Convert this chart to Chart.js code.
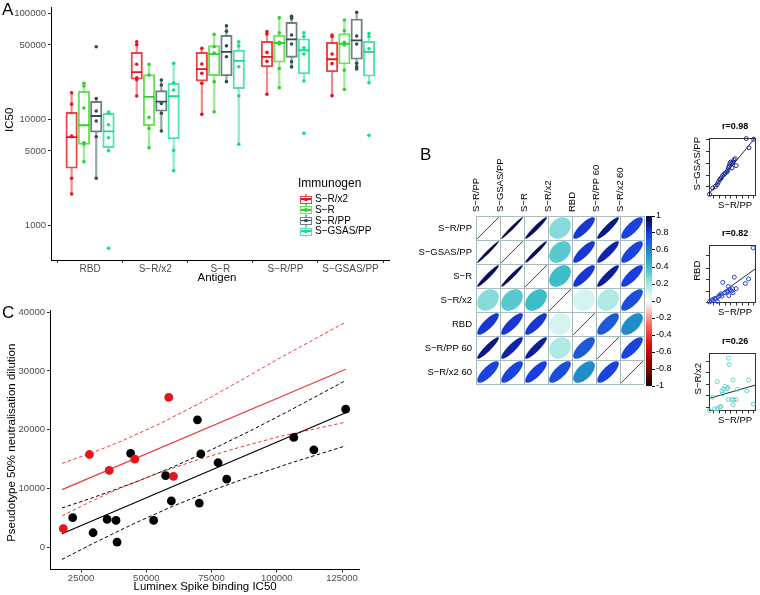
<!DOCTYPE html>
<html><head><meta charset="utf-8">
<script src="https://cdn.jsdelivr.net/npm/chart.js@4/dist/chart.umd.min.js"></script>
<style>
body{margin:0;width:760px;height:595px;position:relative;background:#fff;overflow:hidden;font-family:'Liberation Sans',Arial,Helvetica,sans-serif}
canvas{position:absolute}
.t{position:absolute;white-space:nowrap;color:#000}
.g{position:absolute}
</style></head><body>
<canvas id="cA" style="left:0;top:0" width="397" height="290"></canvas>
<canvas id="cM" style="left:400px;top:130px" width="250" height="260"></canvas>
<canvas id="cBar" style="left:640px;top:205px" width="40" height="190"></canvas>
<canvas id="m1" style="left:685px;top:118px" width="75" height="100"></canvas>
<canvas id="m2" style="left:685px;top:225px" width="75" height="100"></canvas>
<canvas id="m3" style="left:685px;top:333px" width="75" height="100"></canvas>
<canvas id="cC" style="left:0;top:300px" width="370" height="295"></canvas>
<script>
// ---------------- DATA ----------------
const antigens = ['RBD','S\u2212R/x2','S\u2212R','S\u2212R/PP','S\u2212GSAS/PP'];
const immunogens = ['S\u2212R/x2','S\u2212R','S\u2212R/PP','S\u2212GSAS/PP'];
const yTicksA = [1000, 5000, 10000, 50000, 100000];
// box stats per antigen: [lower whisker, q1, median, q3, upper whisker]
const srx2Box = [[1960,3430,6760,11560,17700],[16500,23700,27700,42500,53500],[11060,22800,29600,42500,46400],[17100,31000,38500,54100,66700],[16600,27900,36600,52900,62000]];
const srBox   = [[3950,5770,8730,18240,21700],[5360,8650,16150,26200,32800],[11720,25600,41000,49200,63000],[19700,34300,52100,62000,90300],[19000,33000,51300,63800,85900]];
const srppBox = [[2760,7500,10670,14700,15670],[7700,11830,14570,18500,23300],[22500,25500,42900,61600,75900],[31000,38200,56500,81700,93100],[29600,36600,55200,87800,101500]];
const gsasBox = [[5020,5360,7650,11330,11600],[3250,6510,16400,21700,33500],[5770,19300,35300,44700,53500],[22800,26600,44500,57200,65200],[21700,25300,42900,54100,64000]];
// individual points per antigen
const srx2Pts = [[17700,13800,6900,6800,2760,1960],[53500,50200,32800,24500,23500,16500],[46400,33000,27000,21700,11060],[66700,63400,42500,35000,17100],[62000,60000,41000,33300,16600]];
const srPts   = [[21700,20500,12700,5970,5800,3950],[32800,26000,10400,8160,5360],[63000,48000,42000,22500,11720],[90300,65000,53000,51000,30000,19700],[85900,68000,53000,50000,28800,19000]];
const srppPts = [[48100,15600,11900,9580,6800,2760],[23300,20900,14000,11330,7700],[75900,67200,49000,38700,22500],[93100,89000,62000,51000,34700,31000],[101500,60700,51000,33500,31000,29600]];
const gsasPts = [[11600,8830,6660,5020,603],[33500,22000,18800,5070,3250],[53500,49000,31100,16500,5770],[65200,60000,47000,41000,22800,7330],[64000,60000,46000,22000,7010]];

// correlation matrix
const corrVars = ['S\u2212R/PP','S\u2212GSAS/PP','S\u2212R','S\u2212R/x2','RBD','S\u2212R/PP 60','S\u2212R/x2 60'];
const corr = [
 [1.00,0.98,0.96,0.26,0.82,0.92,0.78],
 [0.98,1.00,0.97,0.35,0.82,0.88,0.78],
 [0.96,0.97,1.00,0.40,0.82,0.90,0.80],
 [0.26,0.35,0.40,1.00,0.10,0.18,0.75],
 [0.82,0.82,0.82,0.10,1.00,0.72,0.58],
 [0.92,0.88,0.90,0.18,0.72,1.00,0.78],
 [0.78,0.78,0.80,0.75,0.58,0.78,1.00]];
const cbTicks = [1,0.8,0.6,0.4,0.2,0,-0.2,-0.4,-0.6,-0.8,-1];

// mini scatter plots (S-R/PP on x)
const mini1X = [1,8,14,18,20,23,25,27,30,33,35,39,41,42,44,45,47,50,52,54,57,59,50,81,87,97];
const mini1Y = [2,13,16,19,23,27,29,31,35,37,39,41,44,48,51,55,58,56,58,62,64,52,48,99,83,98];
const mini1Fit = [3,100];
const mini2X = [1,5,8,12,15,18,20,23,26,28,30,35,39,41,42,43,46,49,51,52,55,59,79,86,96];
const mini2Y = [1,3,5,7,6,2,10,12,15,11,35,17,18,20,28,12,22,20,24,17,44,24,33,41,95];
const mini2Fit = [1,58];
const mini3X = [42,44,18,52,28,32,35,39,41,30,42,49,54,59,52,82,86,8,12,18,23,26,1,96,62];
const mini3Y = [91,80,50,53,34,37,42,38,40,29,19,19,19,19,10,34,53,23,3,3,6,7,0,11,37];
const mini3Fit = [21,44];
const miniXTicks = [10,23,35,47,60,73,85,97];
const mini1YTicks = [15,35,55,76,98];
const mini2YTicks = [0,19,40,60,81];
const mini3YTicks = [6,26,46,66,86];

// panel C
const redX = [18200,28200,35800,45600,58600,60400];
const redY = [3190,15800,13100,15000,25500,12100];
const blackX = [21800,29600,35000,38400,38800,44000,52800,57400,59600,69600,70300,70900,77500,80800,106500,114200,126400];
const blackY = [5060,2500,4770,4600,900,16000,4600,12200,7900,21700,7550,15900,14400,11600,18700,16600,23500];
const fitX = [17700,126400];
const blackFitY = [2330,22900];
const redFitY = [9830,30300];
const blackBandX = [17700,30000,45000,60000,75000,90000,105000,126400];
const blackUpper = [6700,8540,10960,13640,16620,19860,23290,28380];
const blackLower = [-2040,760,4000,6980,9660,12080,14310,17280];
const redBandX = [17700,30000,41000,55000,70000,85000,100000,126400];
const redUpper = [14300,16220,18170,21000,24400,28080,31920,38300];
const redLower = [5360,8080,10270,12710,14950,16930,18740,21300];
const xTicksC = [25000,50000,75000,100000,125000];
const yTicksC = [0,10000,20000,30000,40000];

// ---------------- HELPERS ----------------
const FONT = "'Liberation Sans', Arial, Helvetica, sans-serif";
Chart.defaults.font.family = FONT;
Chart.defaults.animation = false;
Chart.defaults.responsive = false;
Chart.defaults.events = [];
Chart.defaults.plugins.legend.display = false;
Chart.defaults.plugins.tooltip.enabled = false;

function txt(s, x, y, size, opt = {}) {
  const d = document.createElement('div');
  d.className = 't'; d.textContent = s;
  d.style.fontSize = size + 'px'; d.style.lineHeight = size + 'px';
  if (opt.bold) d.style.fontWeight = 'bold';
  if (opt.color) d.style.color = opt.color;
  document.body.appendChild(d);
  const w = d.offsetWidth;
  if (opt.rot) {
    d.style.left = (x - w / 2) + 'px';
    d.style.top = (y - size / 2) + 'px';
    d.style.transform = 'rotate(-90deg)';
  } else {
    const al = opt.align || 'left';
    d.style.left = (al === 'center' ? x - w / 2 : al === 'right' ? x - w : x) + 'px';
    d.style.top = (y - 0.846 * size) + 'px';
  }
}
function box(x, y, w, h, css) {
  const d = document.createElement('div'); d.className = 'g';
  d.style.left = x + 'px'; d.style.top = y + 'px'; d.style.width = w + 'px'; d.style.height = h + 'px';
  Object.assign(d.style, css || {});
  document.body.appendChild(d);
}
// fix an axis' thickness and drop the label overhang padding
const fixH = h => s => { s.height = h; s.paddingLeft = 0; s.paddingRight = 0; s.paddingTop = 0; s.paddingBottom = 0; };
const fixW = w => s => { s.width = w; s.paddingLeft = 0; s.paddingRight = 0; s.paddingTop = 0; s.paddingBottom = 0; };
const tickGrid = {display: true, drawOnChartArea: false, drawTicks: true, tickLength: 3, color: '#333333', lineWidth: 1};
const axisBorder = {display: true, color: '#000', width: 1};
const setTicks = arr => s => { s.ticks = arr.map(v => ({value: v})); };

// ---------------- PANEL A ----------------
const groupsA = [
  {box: srx2Box, pts: srx2Pts, solid: '#E8141C', line: 'rgba(232,20,28,0.8)', whisk: 'rgba(232,20,28,0.5)'},
  {box: srBox, pts: srPts, solid: '#2ED12E', line: 'rgba(60,215,40,0.75)', whisk: 'rgba(60,215,40,0.5)'},
  {box: srppBox, pts: srppPts, solid: '#2F4F4F', line: 'rgba(47,79,79,0.7)', whisk: 'rgba(47,79,79,0.5)'},
  {box: gsasBox, pts: gsasPts, solid: '#14DC8C', line: 'rgba(20,220,140,0.75)', whisk: 'rgba(20,220,140,0.5)'}
];
const boxOff = [-0.2835, -0.0945, 0.0945, 0.2835];
const dsA = [];
groupsA.forEach((g, k) => dsA.push({type: 'scatter',
  data: g.pts.flatMap((arr, i) => arr.map(v => ({x: i + 1 + boxOff[k], y: v}))),
  backgroundColor: g.solid, borderWidth: 0, pointRadius: 1.8}));
groupsA.forEach((g, k) => dsA.push({type: 'scatter',
  data: g.box.map((b, i) => ({x: i + 1 + boxOff[k], y: b[2]})),
  pointStyle: 'line', pointRadius: 5.6, borderColor: g.solid, borderWidth: 1.8}));
groupsA.forEach((g, k) => dsA.push({type: 'bar',
  data: g.box.map((b, i) => ({x: i + 1 + boxOff[k], y: [b[1], b[3]]})),
  backgroundColor: 'rgba(255,255,255,0)', borderColor: g.line, borderWidth: 1.3,
  borderSkipped: false, barThickness: 11.5, grouped: false}));
groupsA.forEach((g, k) => dsA.push({type: 'bar',
  data: g.box.flatMap((b, i) => [{x: i + 1 + boxOff[k], y: [b[0], b[1]]}, {x: i + 1 + boxOff[k], y: [b[3], b[4]]}]),
  backgroundColor: g.whisk, borderWidth: 0, barThickness: 1.5, grouped: false}));

const chartA = new Chart(document.getElementById('cA'), {
  type: 'scatter', data: {datasets: dsA},
  options: {
    layout: {padding: {top: 2, right: 0, left: 0, bottom: 0}},
    scales: {
      x: {type: 'linear', min: 0.4, max: 5.6, offset: false,
        afterBuildTicks: setTicks([1,2,3,4,5]), afterFit: fixH(30),
        ticks: {autoSkip: false, maxRotation: 0, minRotation: 0, padding: 0, color: '#4d4d4d', font: {size: 10},
          callback: v => antigens[Math.round(v) - 1]},
        grid: tickGrid, border: axisBorder},
      y: {type: 'logarithmic', min: 468, max: 126900,
        afterBuildTicks: setTicks(yTicksA), afterFit: fixW(51),
        ticks: {padding: 2, color: '#4d4d4d', font: {size: 9.5, lineHeight: 0.35}, callback: v => String(v)},
        grid: tickGrid, border: axisBorder}
    }
  }
});
// keep 1000 -> y 225 and 100000 -> y 13 whatever the final plot box is
(function calibrate() {
  const ca = chartA.chartArea, dec = (225 - 13) / 2;
  chartA.options.scales.y.max = Math.pow(10, 5 + (13 - ca.top) / dec);
  chartA.options.scales.y.min = Math.pow(10, 3 - (ca.bottom - 225) / dec);
  chartA.update('none');
})();
txt('A', 2, 15, 17);
txt('Antigen', 217, 282, 11.5, {align: 'center'});
txt('IC50', 10, 120, 11.5, {rot: true});
txt('Immunogen', 298, 187, 12);
groupsA.forEach((g, k) => {
  const yc = 199 + k * 10.7, x = 300;
  box(x + 5, yc - 5.5, 1.5, 11, {background: g.whisk});
  box(x, yc - 3.5, 9.5, 6, {border: '1px solid ' + g.line, background: '#fff'});
  box(x + 0.5, yc - 0.7, 10.5, 1.5, {background: g.solid});
  box(x + 4, yc - 1.5, 3.5, 3.5, {background: g.solid, borderRadius: '50%'});
  txt(immunogens[k], 315, yc + 3.6, 10);
});

// ---------------- PANEL B : correlation matrix ----------------
const cStops = [[-1,[26,0,0]],[-0.8,[122,0,0]],[-0.5,[224,16,16]],[-0.3,[255,90,90]],[0,[255,255,255]],
  [0.2,[166,232,226]],[0.4,[60,190,200]],[0.6,[30,134,200]],[0.8,[26,60,224]],[0.9,[12,30,152]],[1,[8,8,56]]];
function corrColor(r) {
  for (let i = 1; i < cStops.length; i++) {
    if (r <= cStops[i][0]) {
      const [r0, c0] = cStops[i - 1], [r1, c1] = cStops[i];
      const f = (r - r0) / (r1 - r0);
      return 'rgb(' + c0.map((c, j) => Math.round(c + (c1[j] - c) * f)).join(',') + ')';
    }
  }
  return 'rgb(8,8,56)';
}
function ellipseImg(r, size) {
  const c = document.createElement('canvas'); c.width = size; c.height = size;
  const g = c.getContext('2d');
  const S = size * 0.9;
  g.translate(size / 2, size / 2);
  if (r >= 0.9999) {
    g.strokeStyle = '#45457a'; g.lineWidth = 1;
    g.beginPath(); g.moveTo(-S / 2, S / 2); g.lineTo(S / 2, -S / 2); g.stroke();
    return c;
  }
  const a = Math.acos(r);
  g.beginPath();
  for (let i = 0; i <= 120; i++) {
    const t = i / 120 * 2 * Math.PI;
    const x = Math.cos(t + a / 2) / 2 * S, y = -Math.cos(t - a / 2) / 2 * S;
    if (i) g.lineTo(x, y); else g.moveTo(x, y);
  }
  g.closePath(); g.fillStyle = corrColor(r); g.fill();
  return c;
}
const cells = [], cellImgs = [];
corr.forEach((row, i) => row.forEach((r, j) => { cells.push({x: j + 1, y: i + 1}); cellImgs.push(ellipseImg(r, 24)); }));
const gridCol = '#a9bdbd';
new Chart(document.getElementById('cM'), {
  type: 'scatter',
  data: {datasets: [{data: cells, pointStyle: ctx => cellImgs[ctx.dataIndex], pointRadius: 5, clip: false}]},
  options: {
    layout: {padding: {left: 0, top: 0, right: 5, bottom: 4}},
    scales: {
      x: {type: 'linear', position: 'top', min: 0.5, max: 7.5,
        afterBuildTicks: setTicks([1,2,3,4,5,6,7]), afterFit: fixH(86),
        ticks: {autoSkip: false, minRotation: 90, maxRotation: 90, padding: 4, color: '#000', font: {size: 9.5},
          callback: v => corrVars[Math.round(v) - 1]},
        grid: {offset: true, color: gridCol, lineWidth: 1, drawTicks: false}, border: {display: true, color: gridCol}},
      y: {type: 'linear', reverse: true, min: 0.5, max: 7.5,
        afterBuildTicks: setTicks([1,2,3,4,5,6,7]), afterFit: fixW(76),
        ticks: {autoSkip: false, padding: 4, color: '#000', font: {size: 9.5, lineHeight: 0.35},
          callback: v => corrVars[Math.round(v) - 1]},
        grid: {offset: true, color: gridCol, lineWidth: 1, drawTicks: false}, border: {display: true, color: gridCol}}
    }
  }
});
// colour bar
const cbN = 100, cbSeg = [], cbCol = [];
for (let i = 0; i < cbN; i++) {
  const lo = -1 + 2 * i / cbN, hi = -1 + 2 * (i + 1) / cbN;
  cbSeg.push({x: 0, y: [lo, Math.min(1, hi + 0.004)]});
  cbCol.push(corrColor((lo + hi) / 2));
}
new Chart(document.getElementById('cBar'), {
  type: 'bar',
  data: {datasets: [{data: cbSeg, backgroundColor: cbCol, borderWidth: 0, barThickness: 6, grouped: false}]},
  options: {
    layout: {padding: {left: 6, top: 11, right: 0, bottom: 9}},
    scales: {
      x: {type: 'linear', min: -0.5, max: 0.5, display: false, offset: false, grid: {offset: false}},
      y: {position: 'right', min: -1, max: 1, afterBuildTicks: setTicks(cbTicks), afterFit: fixW(28),
        ticks: {padding: 1, color: '#000', font: {size: 9, lineHeight: 0.35}, callback: v => String(Math.round(v * 10) / 10)},
        grid: {display: true, drawOnChartArea: false, tickLength: 3, color: '#000'}, border: {display: false}}
    }
  }
});
txt('B', 420, 160, 17);

// mini plots
function mini(id, xs, ys, fit, col, yt) {
  const frame = {display: true, grid: {display: false}, ticks: {display: false}, border: {display: true, color: '#333', width: 1}};
  new Chart(document.getElementById(id), {
    type: 'scatter',
    data: {datasets: [
      {data: xs.map((x, i) => ({x, y: ys[i]})), pointRadius: 2, borderColor: col, borderWidth: 1,
        backgroundColor: 'rgba(0,0,0,0)', clip: false},
      {data: [{x: 0, y: fit[0]}, {x: 100, y: fit[1]}], showLine: true, borderColor: '#111', borderWidth: 0.9, pointRadius: 0}
    ]},
    options: {
      layout: {padding: {left: 0, top: 20, right: 1, bottom: 0}},
      scales: {
        x: {min: 0, max: 100, afterBuildTicks: setTicks(miniXTicks), afterFit: fixH(22.5),
          ticks: {callback: () => '', autoSkip: false}, grid: {display: true, drawOnChartArea: false, tickLength: 3, color: '#333'},
          border: {display: true, color: '#333', width: 1}},
        y: {min: 0, max: 100, afterBuildTicks: setTicks(yt), afterFit: fixW(24),
          ticks: {callback: () => '', autoSkip: false}, grid: {display: true, drawOnChartArea: false, tickLength: 3, color: '#333'},
          border: {display: true, color: '#333', width: 1}},
        x2: Object.assign({position: 'top', min: 0, max: 100, afterFit: fixH(0)}, frame),
        y2: Object.assign({position: 'right', min: 0, max: 100, afterFit: fixW(0)}, frame)
      }
    }
  });
}
mini('m1', mini1X, mini1Y, mini1Fit, '#1a2a8c', mini1YTicks);
mini('m2', mini2X, mini2Y, mini2Fit, '#2244dd', mini2YTicks);
mini('m3', mini3X, mini3Y, mini3Fit, '#5fd6cf', mini3YTicks);
[['r=0.98', 'S\u2212GSAS/PP', 118], ['r=0.82', 'RBD', 225], ['r=0.26', 'S\u2212R/x2', 333]].forEach(([t, yl, top]) => {
  txt(t, 735, top + 12, 9, {bold: true, align: 'center'});
  txt(yl, 697, top + 46, 9.5, {rot: true});
  txt('S\u2212R/PP', 735, top + 90.5, 9.5, {align: 'center'});
});

// ---------------- PANEL C ----------------
const pts = (xs, ys) => xs.map((x, i) => ({x, y: ys[i]}));
const lineDs = (xs, ys, col, dash) => ({data: pts(xs, ys), showLine: true, borderColor: col, borderWidth: dash ? 1 : 1.2,
  borderDash: dash ? [3.5, 2.5] : [], pointRadius: 0});
new Chart(document.getElementById('cC'), {
  type: 'scatter',
  data: {datasets: [
    {data: pts(redX, redY), backgroundColor: '#E8141C', borderWidth: 0, pointRadius: 4.4},
    {data: pts(blackX, blackY), backgroundColor: '#000', borderWidth: 0, pointRadius: 4.4},
    lineDs(fitX, redFitY, '#F03A3A', false),
    lineDs(fitX, blackFitY, '#000', false),
    lineDs(redBandX, redUpper, '#F03A3A', true),
    lineDs(redBandX, redLower, '#F03A3A', true),
    lineDs(blackBandX, blackUpper, '#000', true),
    lineDs(blackBandX, blackLower, '#000', true)
  ]},
  options: {
    layout: {padding: {left: 0, top: 10, right: 11, bottom: 0}},
    scales: {
      x: {min: 13100, max: 131500, afterBuildTicks: setTicks(xTicksC), afterFit: fixH(25.5),
        ticks: {autoSkip: false, maxRotation: 0, padding: 0, color: '#4d4d4d', font: {size: 9.5}, callback: v => String(v)},
        grid: tickGrid, border: axisBorder},
      y: {min: -3750, max: 40370, afterBuildTicks: setTicks(yTicksC), afterFit: fixW(50),
        ticks: {padding: 2, color: '#4d4d4d', font: {size: 9.5}, callback: v => String(v)},
        grid: tickGrid, border: axisBorder}
    }
  }
});
txt('C', 2, 318, 17);
txt('Luminex Spike binding IC50', 205, 591, 11.5, {align: 'center'});
txt('Pseudotype 50% neutralisation dilution', 12, 443, 11.5, {rot: true});
</script>
</body></html>
